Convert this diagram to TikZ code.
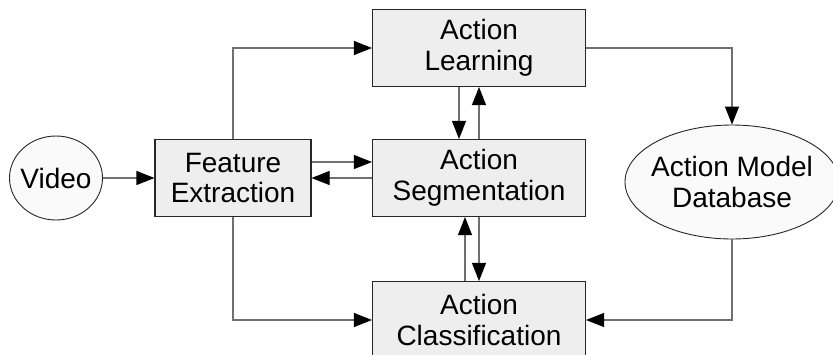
\documentclass[tikz,border=0pt]{standalone}
\usepackage{fontspec}
\setmainfont{Liberation Sans}
\usetikzlibrary{shapes.geometric, arrows.meta, positioning}
\definecolor{boxfill}{RGB}{238,238,238}
\definecolor{ovalfill}{RGB}{250,250,250}
\definecolor{linkgray}{RGB}{112,112,112}

\begin{document}
\begin{tikzpicture}[
  x=1pt,y=-1pt,
  stage/.style={
    rectangle, line width=1.1pt,
    draw=black!85, fill=boxfill,
    minimum width=213pt, minimum height=77pt, inner sep=0pt,
    align=center, font=\fontsize{28}{31}\selectfont
  },
  oval/.style={
    ellipse, line width=0.9pt,
    draw=black!85, fill=ovalfill, inner sep=-6pt,
    align=center, font=\fontsize{28}{31}\selectfont
  },
  link/.style={-{Triangle[length=18pt,width=14pt,color=black]}, line width=1.1pt, draw=linkgray}
]
\useasboundingbox (0,0) rectangle (833,354);

% ---- Central column ----
\node[stage] (as) at (479,178) {Action\\Segmentation};
\node[stage] (al) at (479,48) {Action\\Learning};
\node[stage] (ac) at (479,320) {Action\\Classification};

% ---- Input side ----
\node[stage, minimum width=156pt] (fe) at (233,178) {Feature\\Extraction};
\node[oval, minimum width=93pt, minimum height=84pt] (video) at (56,178) {Video};

% ---- Model store ----
\node[oval, minimum width=214pt, minimum height=114pt] (db) at (732,182) {Action Model\\Database};

% ---- Connectors ----
\draw[link] (video) -- (fe);
\draw[link] (fe.north) |- (al.west);
\draw[link] (fe.south) |- (ac.west);
\draw[link] ([yshift=16pt]fe.east) -- ([yshift=16pt]as.west);
\draw[link] (as.west) -- (fe.east);
\draw[link] ([xshift=-20pt]al.south) -- ([xshift=-20pt]as.north);
\draw[link] (as.north) -- (al.south);
\draw[link] ([xshift=-14pt]ac.north) -- ([xshift=-14pt]as.south);
\draw[link] (as.south) -- (ac.north);
\draw[link] (al.east) -| (db.north);
\draw[link] (db.south) |- (ac.east);

\end{tikzpicture}
\end{document}
